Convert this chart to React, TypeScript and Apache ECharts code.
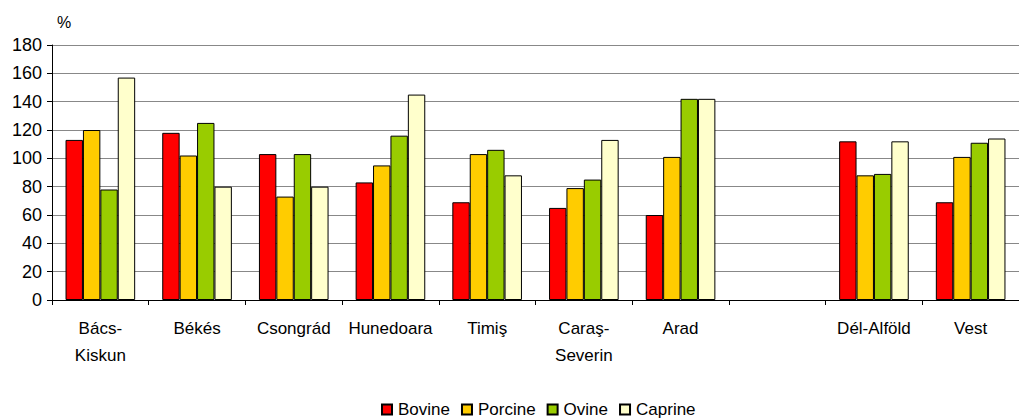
import React, { useEffect, useRef } from "react";
import * as echarts from "echarts";

const categories = ["Bács-\nKiskun", "Békés", "Csongrád", "Hunedoara", "Timiş", "Caraş-\nSeverin", "Arad", "", "Dél-Alföld", "Vest"];
const bovine = [113, 118, 103, 83, 69, 65, 60, null, 112, 69];
const porcine = [120, 102, 73, 95, 103, 79, 101, null, 88, 101];
const ovine = [78, 125, 103, 116, 106, 85, 142, null, 89, 111];
const caprine = [157, 80, 80, 145, 88, 113, 142, null, 112, 114];
const seriesNames = ["Bovine", "Porcine", "Ovine", "Caprine"];
const seriesColors = ["#FF0000", "#FFCC00", "#99CC00", "#FFFFCC"];
const yTicks = { min: 0, max: 180, interval: 20 };

export default function App() {
  const ref = useRef<HTMLDivElement>(null);
  useEffect(() => {
    if (!ref.current) return;
    const chart = echarts.init(ref.current, null, { renderer: "svg" });
    const data = [bovine, porcine, ovine, caprine];
    const font = "'Liberation Sans', Arial, sans-serif";
    chart.setOption({
      animation: false,
      textStyle: { fontFamily: font },
      grid: { left: 52, top: 45, bottom: 119, width: 978 },
      legend: {
        left: 381,
        top: 401,
        padding: 0,
        itemWidth: 10,
        itemHeight: 10,
        itemGap: 11,
        icon: "rect",
        textStyle: { fontSize: 17, lineHeight: 17, color: "#000", fontFamily: font, padding: [0, 0, 0, 1] },
        data: seriesNames,
      },
      graphic: [
        { type: "text", left: 57, top: 14, style: { text: "%", fontSize: 16, fill: "#000", fontFamily: font } },
      ],
      xAxis: {
        type: "category",
        data: categories,
        axisLine: { lineStyle: { color: "#000", width: 1 } },
        axisTick: { show: true, length: 5, inside: false, lineStyle: { color: "#000" } },
        axisLabel: { color: "#000", fontSize: 17, lineHeight: 27, margin: 15, interval: 0, fontFamily: font },
      },
      yAxis: {
        type: "value",
        min: yTicks.min,
        max: yTicks.max,
        interval: yTicks.interval,
        axisLine: { show: true, lineStyle: { color: "#000" } },
        axisTick: { show: true, length: 5, lineStyle: { color: "#000" } },
        axisLabel: { color: "#000", fontSize: 18, margin: 10, fontFamily: font },
        splitLine: { lineStyle: { color: "#888", width: 1 } },
      },
      series: seriesNames.map((name, i) => ({
        name,
        type: "bar",
        data: data[i],
        barGap: "0%",
        barCategoryGap: "28%",
        itemStyle: { color: seriesColors[i], borderColor: "#000", borderWidth: 1 },
      })),
    });
    return () => chart.dispose();
  }, []);
  return <div ref={ref} style={{ width: 1019, height: 419, position: "absolute", left: 0, top: 0 }} />;
}
